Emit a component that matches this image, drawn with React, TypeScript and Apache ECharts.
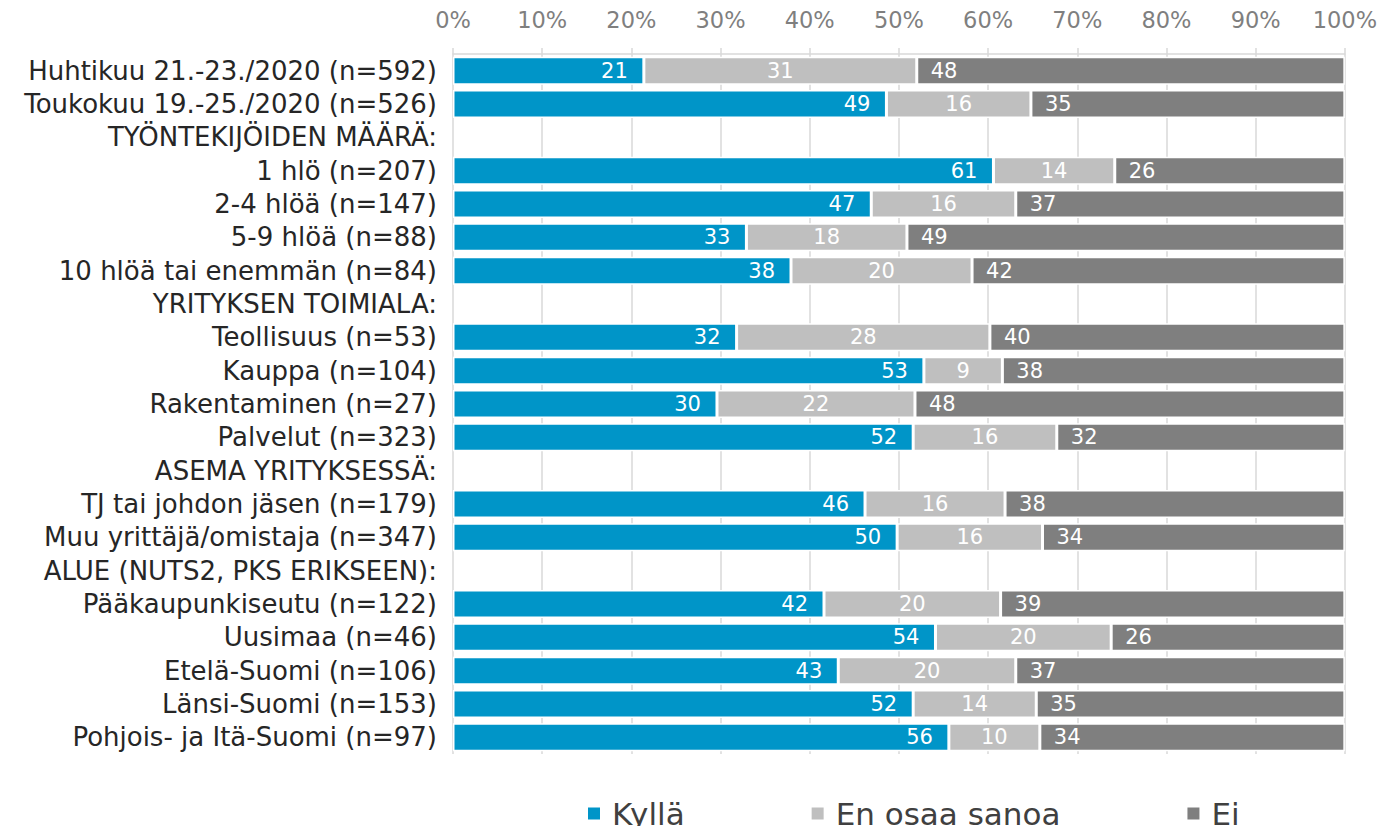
import React, { useEffect, useRef } from "react";
import * as echarts from "echarts";

const categories = [
  "Huhtikuu 21.-23./2020 (n=592)",
  "Toukokuu 19.-25./2020 (n=526)",
  "TYÖNTEKIJÖIDEN MÄÄRÄ:",
  "1 hlö (n=207)",
  "2-4 hlöä (n=147)",
  "5-9 hlöä (n=88)",
  "10 hlöä tai enemmän (n=84)",
  "YRITYKSEN TOIMIALA:",
  "Teollisuus (n=53)",
  "Kauppa (n=104)",
  "Rakentaminen (n=27)",
  "Palvelut (n=323)",
  "ASEMA YRITYKSESSÄ:",
  "TJ tai johdon jäsen (n=179)",
  "Muu yrittäjä/omistaja (n=347)",
  "ALUE (NUTS2, PKS ERIKSEEN):",
  "Pääkaupunkiseutu (n=122)",
  "Uusimaa (n=46)",
  "Etelä-Suomi (n=106)",
  "Länsi-Suomi (n=153)",
  "Pohjois- ja Itä-Suomi (n=97)",
];

const kylla = [21.4, 48.6, null, 60.6, 46.9, 32.9, 37.9, null, 31.8, 52.8, 29.6, 51.6, null, 46.2, 49.8, null, 41.6, 54.1, 43.2, 51.6, 55.6];
const enOsaa = [30.6, 16.2, null, 13.6, 16.2, 18.0, 20.3, null, 28.4, 8.8, 22.2, 16.1, null, 15.7, 16.3, null, 19.8, 19.7, 19.9, 13.8, 10.2];
const ei = [48.0, 35.2, null, 25.8, 36.9, 49.1, 41.8, null, 39.8, 38.4, 48.2, 32.3, null, 38.1, 33.9, null, 38.6, 26.2, 36.9, 34.6, 34.2];

const seriesNames = ["Kyllä", "En osaa sanoa", "Ei"];
const colors = ["#0095c8", "#bfbfbf", "#7f7f7f"];
const labelPositions = ["insideRight", "inside", "insideLeft"];

const FONT = "'DejaVu Sans', Verdana, sans-serif";

export default function App() {
  const ref = useRef<HTMLDivElement>(null);
  useEffect(() => {
    if (!ref.current) return;
    const chart = echarts.init(ref.current, undefined, { renderer: "svg" });
    const data = [kylla, enOsaa, ei];
    chart.setOption({
      animation: false,
      textStyle: { fontFamily: FONT },
      grid: { left: 445, right: 31, top: 44, bottom: 72, containLabel: false },
      legend: {
        data: seriesNames,
        left: 573,
        top: 785,
        icon: "rect",
        itemWidth: 14,
        itemHeight: 14,
        itemGap: 125,
        textStyle: { fontFamily: FONT, fontSize: 31, color: "#404040", padding: [0, 0, 0, 6] },
      },
      xAxis: {
        type: "value",
        position: "top",
        min: 0,
        max: 100,
        interval: 10,
        axisLabel: {
          formatter: "{value}%",
          fontFamily: FONT,
          fontSize: 22.5,
          color: "#7f7f7f",
          margin: 23,
        },
        axisLine: { show: true, lineStyle: { color: "#d9d9d9", width: 1.5 } },
        axisTick: { show: true, length: 6, lineStyle: { color: "#d9d9d9", width: 1.5 } },
        splitLine: { show: true, lineStyle: { color: "#d9d9d9", width: 1.5 } },
      },
      yAxis: {
        type: "category",
        inverse: true,
        data: categories,
        axisLine: { show: false },
        axisTick: { show: false },
        axisLabel: {
          interval: 0,
          fontFamily: FONT,
          fontSize: 26,
          color: "#262626",
          margin: 16,
        },
      },
      series: seriesNames.map((name, i) => ({
        name,
        type: "bar",
        stack: "total",
        barCategoryGap: "16%",
        data: data[i],
        itemStyle: { color: colors[i], borderColor: "#ffffff", borderWidth: 1.5 },
        label: {
          show: true,
          position: labelPositions[i],
          distance: i === 0 ? 16 : 14,
          color: "#ffffff",
          fontFamily: FONT,
          fontSize: 21,
          formatter: (p: any) => (p.value == null ? "" : String(Math.round(p.value))),
        },
      })),
    });
    return () => chart.dispose();
  }, []);
  return <div ref={ref} style={{ width: 1372, height: 818 }} />;
}
